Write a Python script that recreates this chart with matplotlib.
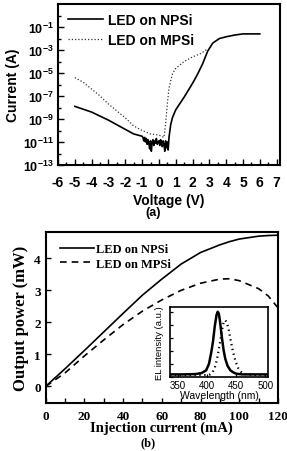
import matplotlib
matplotlib.use("Agg")
import matplotlib.pyplot as plt
import numpy as np
from matplotlib.ticker import FuncFormatter, MultipleLocator, FixedLocator

plt.rcParams["mathtext.fontset"] = "custom"
plt.rcParams["mathtext.rm"] = "Liberation Sans:bold"
plt.rcParams["mathtext.bf"] = "Liberation Sans:bold"
plt.rcParams["mathtext.default"] = "bf"
plt.rcParams["axes.unicode_minus"] = False

# (a) I-V curves, current given as log10(A)
v_npsi = [-5.0, -4.5, -4.0, -3.5, -3.0, -2.5, -2.0, -1.5, -1.0,
          -0.95, -0.9, -0.85, -0.8, -0.75, -0.7, -0.65, -0.6, -0.55, -0.5,
          -0.45, -0.4, -0.35, -0.3, -0.25, -0.2, -0.15, -0.1, -0.05, 0.0,
          0.05, 0.1, 0.15, 0.2, 0.25, 0.3, 0.35, 0.4, 0.45, 0.5, 0.55,
          0.6, 0.7, 0.8, 1.0, 1.5, 2.0, 2.3, 2.6, 2.9, 3.2, 3.6, 4.0, 4.5,
          5.0, 6.0]
logi_npsi = [-7.9, -8.15, -8.4, -8.75, -9.1, -9.5, -9.9, -10.3, -10.5,
             -10.6, -10.9, -10.6, -11.0, -10.7, -11.2, -10.8, -11.1, -11.6, -10.9,
             -11.8, -11.0, -10.8, -11.3, -10.9, -11.1, -10.7, -11.2, -11.0, -10.9,
             -11.3, -10.8, -11.1, -11.4, -10.9, -11.2, -11.8, -10.9, -11.5, -11.0, -11.7,
             -10.6, -9.5, -8.9, -8.2, -7.1, -5.9, -5.1, -4.2, -3.1, -2.4, -2.0, -1.85,
             -1.7, -1.6, -1.6]

v_mpsi = [-5.0, -4.5, -4.0, -3.5, -3.0, -2.5, -2.0, -1.5, -1.0, -0.5, 0.0,
          0.3, 0.4, 0.5, 0.6, 0.8, 1.0, 1.5, 2.0, 2.5, 2.9]
logi_mpsi = [-5.4, -5.8, -6.4, -7.0, -7.7, -8.3, -8.9, -9.6, -10.0, -10.3, -10.4,
             -10.6, -9.4, -7.7, -6.3, -5.1, -4.6, -4.0, -3.6, -3.3, -2.9]

# (b) L-I curves
cur = [0, 10, 20, 30, 40, 50, 60, 70, 80, 90, 95, 100, 110, 115, 120]
pow_npsi = [0.0, 0.55, 1.12, 1.7, 2.28, 2.85, 3.35, 3.82, 4.18, 4.42, 4.52, 4.6,
            4.69, 4.71, 4.72]
pow_mpsi = [0.0, 0.42, 0.95, 1.45, 1.93, 2.35, 2.7, 3.0, 3.22, 3.35, 3.36, 3.3,
            3.05, 2.82, 2.45]

# inset EL spectra
wl_npsi = [336, 360, 380, 390, 398, 403, 407, 410, 413, 416, 418, 420, 422, 425,
           428, 431, 435, 440, 445, 450, 460, 480, 505]
el_npsi = [0.04, 0.04, 0.045, 0.06, 0.1, 0.2, 0.38, 0.55, 0.78, 0.95, 1.0, 0.97,
           0.85, 0.62, 0.42, 0.28, 0.17, 0.1, 0.07, 0.05, 0.04, 0.04, 0.04]
wl_mpsi = [336, 400, 405, 409, 413, 417, 421, 425, 428, 431, 434, 437, 441, 445,
           449, 453, 458, 465, 480, 505]
el_mpsi = [0.03, 0.03, 0.04, 0.07, 0.14, 0.28, 0.48, 0.7, 0.83, 0.87, 0.83, 0.72,
           0.53, 0.36, 0.23, 0.14, 0.08, 0.045, 0.03, 0.03]

W, H = 287, 452
fig = plt.figure(figsize=(W / 100, H / 100), dpi=100)

sans = "Liberation Sans"
serif = "Liberation Serif"

# ---------- panel (a)
ax1 = fig.add_axes([58 / W, 1 - 166 / H, 222 / W, 161 / H])
ax1.plot(v_npsi, 10.0 ** np.array(logi_npsi), color="black", lw=1.2,
         label="LED on NPSi")
ax1.plot(v_mpsi, 10.0 ** np.array(logi_mpsi), color="#333333", lw=0.9,
         linestyle=(0, (1, 1.6)), label="LED on MPSi")
ax1.set_yscale("log")
ax1.set_xlim(-6, 7.2)
ax1.set_ylim(1e-13, 1e1)
ax1.xaxis.set_major_locator(MultipleLocator(1))
ax1.xaxis.set_minor_locator(MultipleLocator(0.5))
ax1.yaxis.set_major_locator(FixedLocator([10.0 ** e for e in range(-13, 0, 2)]))
ax1.yaxis.set_minor_locator(FixedLocator([10.0 ** e for e in range(-12, 1, 2)]))
ax1.yaxis.set_major_formatter(FuncFormatter(
    lambda y, p: r"$10^{%d}$" % int(round(np.log10(y)))))
ax1.yaxis.set_minor_formatter(FuncFormatter(lambda y, p: ""))
ax1.tick_params(which="both", direction="in", top=False, right=False)
ax1.tick_params(which="major", length=4, width=1.0)
ax1.tick_params(which="minor", length=2.5, width=1.0)
ax1.tick_params(axis="x", pad=7)
ax1.tick_params(axis="y", pad=3, labelsize=9)
for lab in ax1.get_xticklabels():
    lab.set_fontfamily(sans)
    lab.set_fontweight("bold")
    lab.set_fontsize(10)
for s in ax1.spines.values():
    s.set_linewidth(1.5)
ax1.set_xlabel("Voltage (V)", fontsize=10, fontweight="bold", fontfamily=sans,
               labelpad=3)
ax1.set_ylabel("Current (A)", fontsize=10, fontweight="bold", fontfamily=sans,
               labelpad=2)
ax1.legend(loc="upper left", bbox_to_anchor=(61 / W, 1 - 7 / H),
           bbox_transform=fig.transFigure, frameon=False, borderpad=0,
           handlelength=2.5, handletextpad=0.35, labelspacing=0.45,
           prop={"family": sans, "weight": "bold", "size": 10})
fig.text(0.5 + 10 / W, 1 - 213 / H, "(a)", ha="center", va="center",
         fontsize=9, fontweight="bold", fontfamily=sans)

# ---------- panel (b)
ax2 = fig.add_axes([45.7 / W, 1 - 404 / H, 232.3 / W, 171 / H])
ax2.plot(cur, pow_npsi, color="black", lw=1.2, label="LED on NPSi")
ax2.plot(cur, pow_mpsi, color="black", lw=1.2, linestyle=(0, (4, 3)),
         label="LED on MPSi")
ax2.set_xlim(0, 120)
ax2.set_ylim(-0.52, 4.82)
ax2.xaxis.set_major_locator(MultipleLocator(20))
ax2.xaxis.set_minor_locator(MultipleLocator(10))
ax2.yaxis.set_major_locator(MultipleLocator(1))
ax2.tick_params(which="both", direction="in", top=False, right=False)
ax2.tick_params(which="major", length=3.5, width=1.0)
ax2.tick_params(which="minor", length=3.5, width=1.0)
ax2.tick_params(axis="x", pad=5)
for lab in ax2.get_xticklabels() + ax2.get_yticklabels():
    lab.set_fontfamily(serif)
    lab.set_fontweight("bold")
    lab.set_fontsize(9.5)
for s in ax2.spines.values():
    s.set_linewidth(1.5)
ax2.set_xlabel("Injection current (mA)", fontsize=10.5, fontweight="bold",
               fontfamily=serif, labelpad=-1)
ax2.set_ylabel("Output power (mW)", fontsize=12, fontweight="bold",
               fontfamily=serif, labelpad=4)
ax2.legend(loc="upper left", bbox_to_anchor=(54 / W, 1 - 238 / H),
           bbox_transform=fig.transFigure, frameon=False, borderpad=0,
           handlelength=2.7, handletextpad=0.2, labelspacing=0.2,
           prop={"family": serif, "weight": "bold", "size": 9})
fig.text(0.5 + 5 / W, 1 - 443 / H, "(b)", ha="center", va="center",
         fontsize=9, fontweight="bold", fontfamily=serif)

# ---------- inset
ax3 = fig.add_axes([170 / W, 1 - 378 / H, 98.3 / W, 70.5 / H])
ax3.plot(wl_npsi, el_npsi, color="black", lw=1.8)
ax3.plot(wl_mpsi, el_mpsi, color="black", lw=1.6, linestyle=(0, (0.6, 1.6)))
ax3.set_xlim(336, 505)
ax3.set_ylim(0, 1.08)
ax3.xaxis.set_major_locator(MultipleLocator(50))
ax3.yaxis.set_major_locator(MultipleLocator(0.2))
ax3.set_yticklabels([])
ax3.tick_params(which="both", direction="in", top=False, right=False,
                length=2.5, width=0.9, pad=2)
for lab in ax3.get_xticklabels():
    lab.set_fontfamily(sans)
    lab.set_fontsize(7)
for s in ax3.spines.values():
    s.set_linewidth(1.2)
ax3.set_xlabel("Wavelength (nm)", fontsize=7.5, fontfamily=sans, labelpad=0)
ax3.set_ylabel("EL intensity (a.u.)", fontsize=6.8, fontfamily=sans, labelpad=2)

fig.savefig("out.png", dpi=100)
